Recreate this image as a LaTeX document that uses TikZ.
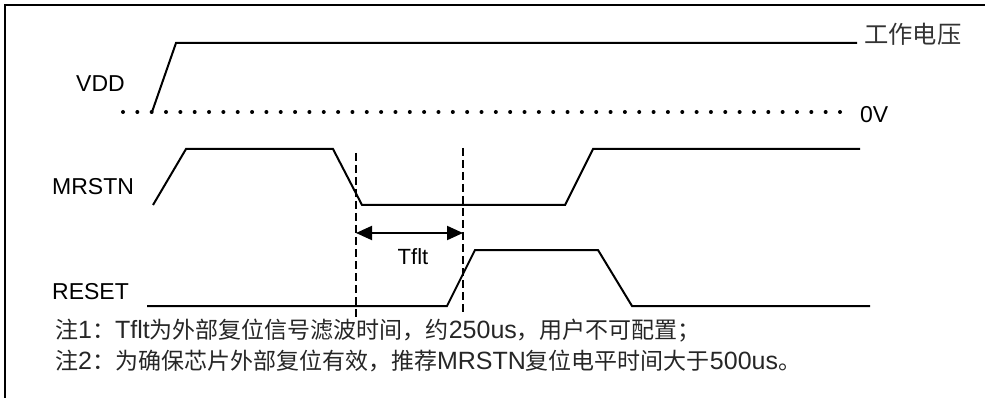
\documentclass[tikz,border=0pt]{standalone}
\usepackage{fontspec}
\setmainfont{Liberation Sans}
\newfontfamily\cjk{Noto Sans CJK SC}[Scale=0.92]
\usetikzlibrary{arrows.meta}
\begin{document}
\begin{tikzpicture}[x=1pt,y=-1pt,
  sig/.style={line width=2pt, line join=miter},
  lbl/.style={font=\fontsize{23}{27}\selectfont, inner sep=0pt, anchor=west},
  note/.style={font=\fontsize{25}{29}\selectfont, inner sep=0pt, anchor=west, text=black!85},
  guide/.style={line width=1.2pt, dash pattern=on 8pt off 4pt},
  dots/.style={line width=4pt, line cap=round, dash pattern=on 0pt off 14.34pt},
  dimarrow/.style={line width=2pt, {Triangle[length=16pt,width=14pt]}-{Triangle[length=16pt,width=14pt]}}]
\useasboundingbox (0,0) rectangle (985,398);
\draw[line width=2pt] (5,398) -- (5,5) -- (985,5);

% labels
\node[lbl] (vdd) at (76,84) {VDD};
\node[lbl] (mrstn) at (52,187) {MRSTN};
\node[lbl] (reset) at (52,292) {RESET};
\node[lbl, font=\fontsize{26.4}{30}\selectfont\cjk, text=black!80] (work) at (864,34) {工作电压};
\node[lbl] (zero) at (860,115) {0V};

% zero level dots
\coordinate (d0) at (123,112);
\coordinate (d1) at (840,112);
\draw[dots] (d0) -- (d1);

% VDD
\coordinate (v0) at (152,112);
\coordinate (v1) at (176,43);
\coordinate (v2) at (857,43);
\draw[sig] (v0) -- (v1) -- (v2);

% MRSTN
\coordinate (m0) at (153,205);
\coordinate (m1) at (186,149);
\coordinate (m2) at (333,149);
\coordinate (m3) at (362,205);
\coordinate (m4) at (565,205);
\coordinate (m5) at (593,149);
\coordinate (m6) at (860,149);
\draw[sig] (m0) -- (m1) -- (m2) -- (m3) -- (m4) -- (m5) -- (m6);

% RESET
\coordinate (r0) at (147,306);
\coordinate (r1) at (447,306);
\coordinate (r2) at (475,250);
\coordinate (r3) at (598,250);
\coordinate (r4) at (632,306);
\coordinate (r5) at (870,306);
\draw[sig] (r0) -- (r1) -- (r2) -- (r3) -- (r4) -- (r5);

% guides
\coordinate (g1t) at (356,153);
\coordinate (g1b) at (356,318);
\coordinate (g2t) at (463,148);
\coordinate (g2b) at (463,312);
\draw[guide] (g1t) -- (g1b);
\draw[guide] (g2t) -- (g2b);

% Tflt
\coordinate (a1) at (356,233);
\coordinate (a2) at (463,233);
\draw[dimarrow] (a1) -- (a2);
\node[lbl, anchor=center, font=\fontsize{22}{26}\selectfont] (tflt) at (413,257) {Tflt};

% notes
\node[note] (n1) at (55,331) {{\cjk 注}1{\cjk ：}Tflt{\cjk 为外部复位信号滤波时间，约}250us{\cjk ，用户不可配置；}};
\node[note] (n2) at (55,361) {{\cjk 注}2{\cjk ：为确保芯片外部复位有效，推荐}MRSTN{\cjk 复位电平时间大于}500us{\cjk 。}};
\end{tikzpicture}
\end{document}
